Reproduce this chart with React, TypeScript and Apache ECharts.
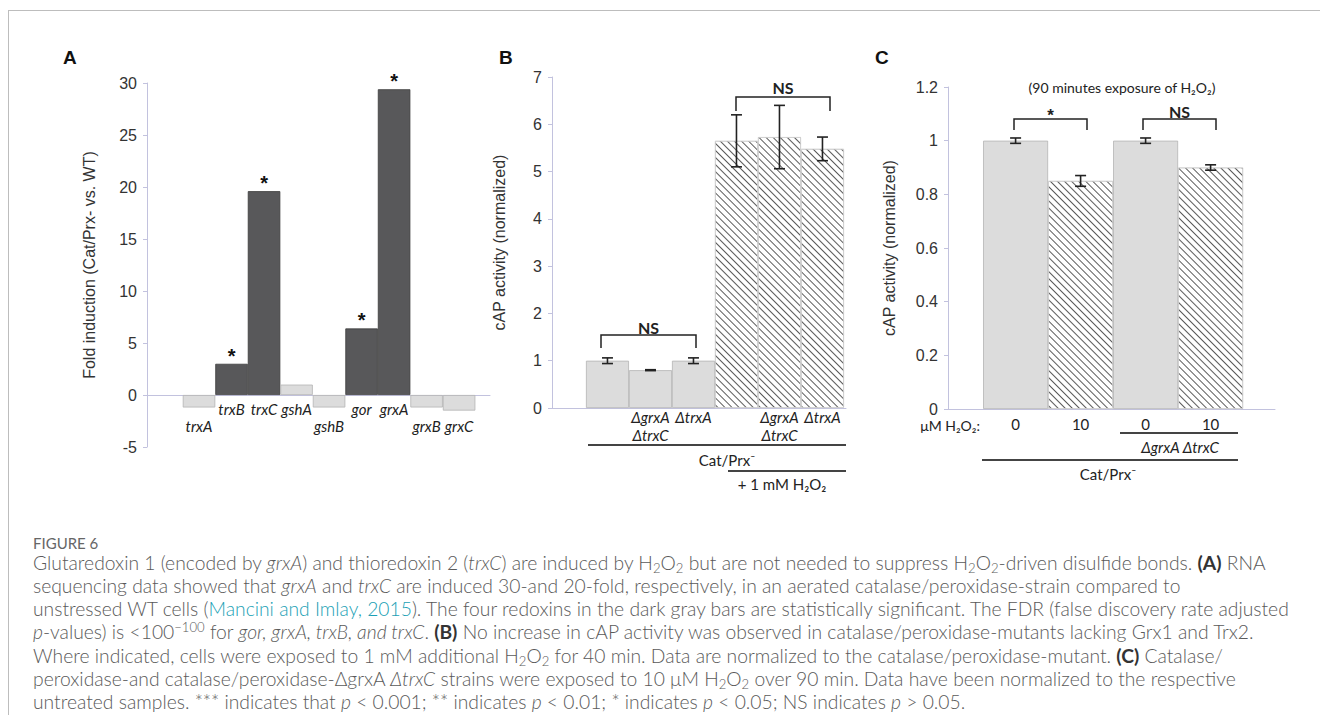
import React, { useEffect, useRef } from "react";
import * as echarts from "echarts";

// ---------- Panel A data ----------
const genes = ["trxA", "trxB", "trxC", "gshA", "gshB", "gor", "grxA", "grxB", "grxC"];
const foldInduction = [-1.2, 3.0, 19.6, 1.0, -1.2, 6.4, 29.4, -1.2, -1.5];
const significant = [false, true, true, false, false, true, true, false, false];
const aTicks = { min: -5, max: 30, interval: 5 };

// ---------- Panel B data ----------
const bStrains = ["", "ΔgrxA\nΔtrxC", "ΔtrxA", "", "ΔgrxA\nΔtrxC", "ΔtrxA"];
const bPeroxide = [false, false, false, true, true, true];
const bActivity = [1.0, 0.8, 1.0, 5.65, 5.73, 5.48];
const bError = [0.06, 0.01, 0.06, 0.55, 0.67, 0.25];
const bTicks = { min: 0, max: 7, interval: 1 };

// ---------- Panel C data ----------
const cDose = ["0", "10", "0", "10"];
const cTreated = [false, true, false, true];
const cActivity = [1.0, 0.85, 1.0, 0.9];
const cError = [0.01, 0.02, 0.01, 0.01];
const cTicks = { min: 0, max: 1.2, interval: 0.2 };

// ---------- styles ----------
const AXIS = "#c2c2de";
const TICKFONT = "'Liberation Sans', Arial, sans-serif";
const LFONT = "Lato, 'Open Sans', sans-serif";
const darkBar = { color: "#58585a", borderColor: "#3c3c3c", borderWidth: 0.8 };
const lightBar = { color: "#dcdcdc", borderColor: "#b4b4b4", borderWidth: 0.8 };
const hatchBar = {
  color: "#ffffff",
  borderColor: "#cfcfcf",
  borderWidth: 0.8,
  decal: {
    symbol: "rect",
    symbolSize: 1,
    dashArrayX: [1, 0],
    dashArrayY: [1, 3.4],
    rotation: Math.PI / 4,
    color: "#5a5a5a",
    backgroundColor: "#ffffff",
  },
};

const A_OFF = 1.6;
const B_OFF = 1.29;
const C_OFF = 1.04;

const A_GRID = { left: 147, top: 83, width: 343, height: 364 };

function yAxisCfg(gridIndex: number, t: any, name: string, nameGap: number) {
  return {
    gridIndex,
    type: "value",
    min: t.min,
    max: t.max,
    interval: t.interval,
    axisLine: { show: true, onZero: false, lineStyle: { color: AXIS, width: 1 } },
    axisTick: { show: true, length: 4, lineStyle: { color: AXIS } },
    splitLine: { show: false },
    axisLabel: { fontSize: 16, color: "#333", fontFamily: TICKFONT, margin: 10 },
    name,
    nameLocation: "middle",
    nameGap,
    nameTextStyle: { fontSize: 16, color: "#333", fontFamily: TICKFONT },
  };
}

function errorSeries(axisIndex: number, xs: number[], ys: number[], es: number[], capHalf: number) {
  return {
    type: "custom",
    xAxisIndex: axisIndex,
    yAxisIndex: axisIndex,
    z: 10,
    clip: false,
    encode: { x: 0, y: [1, 2] },
    data: xs.map((x, i) => [x, ys[i] + es[i], ys[i] - es[i]]),
    renderItem: (params: any, api: any) => {
      const x = api.value(0);
      const hi = api.coord([x, api.value(1)]);
      const lo = api.coord([x, api.value(2)]);
      const style = { stroke: "#222", lineWidth: 1.6 };
      return {
        type: "group",
        children: [
          { type: "line", shape: { x1: hi[0], y1: hi[1], x2: lo[0], y2: lo[1] }, style },
          { type: "line", shape: { x1: hi[0] - capHalf, y1: hi[1], x2: hi[0] + capHalf, y2: hi[1] }, style },
          { type: "line", shape: { x1: lo[0] - capHalf, y1: lo[1], x2: lo[0] + capHalf, y2: lo[1] }, style },
        ],
      };
    },
  };
}

function bracket(x1: number, x2: number, y: number, drop: number, label: string, labelY: number, size: number, font = LFONT) {
  return [
    {
      type: "polyline",
      shape: { points: [[x1, y + drop], [x1, y], [x2, y], [x2, y + drop]] },
      style: { stroke: "#222", lineWidth: 1.5, fill: null },
    },
    {
      type: "text",
      x: (x1 + x2) / 2,
      y: labelY,
      style: { text: label, fontSize: size, fontFamily: font, fontWeight: "bold", fill: "#222", align: "center", verticalAlign: "middle" },
    },
  ];
}

function textEl(x: number, y: number, text: string, opts: any = {}) {
  return {
    type: "text",
    x,
    y,
    style: { text, fontSize: 15, fontFamily: LFONT, fill: "#222", align: "center", verticalAlign: "middle", ...opts },
  };
}

function hline(x1: number, x2: number, y: number) {
  return { type: "line", shape: { x1, y1: y, x2, y2: y }, style: { stroke: "#444", lineWidth: 2 } };
}

function buildOption() {
  const aX = genes.map((_, i) => i + A_OFF);
  const bX = bActivity.map((_, i) => i + B_OFF);
  const cX = cActivity.map((_, i) => i + C_OFF);
  // put panel A's category axis on the zero line of its value axis
  const aZeroOffset = -((0 - aTicks.min) / (aTicks.max - aTicks.min)) * A_GRID.height;

  return {
    animation: false,
    grid: [
      A_GRID,
      { left: 552, top: 77, width: 294, height: 331 },
      { left: 948, top: 87, width: 327, height: 322 },
    ],
    xAxis: [
      {
        gridIndex: 0,
        type: "value",
        min: 0,
        max: 10.55,
        offset: aZeroOffset,
        axisLine: { show: true, onZero: false, lineStyle: { color: AXIS } },
        axisTick: { show: false },
        splitLine: { show: false },
        axisLabel: {
          customValues: aX,
          formatter: (v: number) => {
            const i = Math.round(v - A_OFF);
            if (i < 0 || i >= genes.length) return "";
            return foldInduction[i] < 0 ? "\n" + genes[i] : genes[i];
          },
          fontStyle: "italic",
          fontFamily: LFONT,
          fontSize: 15,
          lineHeight: 17,
          color: "#222",
          margin: 5,
        },
      },
      {
        gridIndex: 1,
        type: "value",
        min: 0,
        max: 294 / 43,
        axisLine: { show: true, onZero: false, lineStyle: { color: AXIS } },
        axisTick: { show: false },
        splitLine: { show: false },
        axisLabel: {
          customValues: bX,
          formatter: (v: number) => {
            const i = Math.round(v - B_OFF);
            return i >= 0 && i < bStrains.length ? bStrains[i] : "";
          },
          fontStyle: "italic",
          fontFamily: LFONT,
          fontSize: 15,
          lineHeight: 18,
          color: "#222",
          margin: 0,
        },
      },
      {
        gridIndex: 2,
        type: "value",
        min: 0,
        max: 327 / 65,
        axisLine: { show: true, onZero: false, lineStyle: { color: AXIS } },
        axisTick: { show: false },
        splitLine: { show: false },
        axisLabel: {
          customValues: cX,
          formatter: (v: number) => {
            const i = Math.round(v - C_OFF);
            return i >= 0 && i < cDose.length ? cDose[i] : "";
          },
          fontFamily: LFONT,
          fontSize: 15,
          color: "#222",
          margin: 7,
        },
      },
    ],
    yAxis: [
      yAxisCfg(0, aTicks, "Fold induction (Cat/Prx- vs. WT)", 50),
      yAxisCfg(1, bTicks, "cAP activity (normalized)", 45),
      yAxisCfg(2, cTicks, "cAP activity (normalized)", 51),
    ],
    series: [
      {
        type: "bar",
        xAxisIndex: 0,
        yAxisIndex: 0,
        barWidth: 32.5,
        data: genes.map((g, i) => ({
          value: [aX[i], foldInduction[i]],
          itemStyle: significant[i] ? darkBar : lightBar,
          label: {
            show: significant[i],
            position: "top",
            distance: -2,
            formatter: "*",
            fontSize: 20,
            fontWeight: "bold",
            color: "#111",
            fontFamily: TICKFONT,
          },
        })),
      },
      {
        type: "bar",
        xAxisIndex: 1,
        yAxisIndex: 1,
        barWidth: 43,
        data: bActivity.map((v, i) => ({
          value: [bX[i], v],
          itemStyle: bPeroxide[i] ? hatchBar : lightBar,
        })),
      },
      errorSeries(1, bX, bActivity, bError, 5.5),
      {
        type: "bar",
        xAxisIndex: 2,
        yAxisIndex: 2,
        barWidth: 65,
        data: cActivity.map((v, i) => ({
          value: [cX[i], v],
          itemStyle: cTreated[i] ? hatchBar : lightBar,
        })),
      },
      errorSeries(2, cX, cActivity, cError, 5.5),
    ],
    graphic: [
      // panel letters
      { type: "text", x: 63, y: 57, style: { text: "A", fontSize: 19, fontWeight: "bold", fontFamily: TICKFONT, fill: "#111", verticalAlign: "middle" } },
      { type: "text", x: 499, y: 57, style: { text: "B", fontSize: 19, fontWeight: "bold", fontFamily: TICKFONT, fill: "#111", verticalAlign: "middle" } },
      { type: "text", x: 875, y: 57, style: { text: "C", fontSize: 19, fontWeight: "bold", fontFamily: TICKFONT, fill: "#111", verticalAlign: "middle" } },
      // panel B annotations
      ...bracket(601, 696, 335, 13, "NS", 327, 16),
      ...bracket(736, 830, 97, 14, "NS", 87, 16),
      hline(588, 846, 445),
      textEl(727, 460, "Cat/Prx⁻"),
      hline(728, 846, 471),
      textEl(782, 484, "+ 1 mM H₂O₂"),
      // panel C annotations
      textEl(1122, 87, "(90 minutes exposure of H₂O₂)", { fontSize: 14 }),
      ...bracket(1014, 1087, 119, 11, "*", 115, 17, TICKFONT),
      ...bracket(1143, 1216, 119, 11, "NS", 111, 16),
      textEl(980, 425, "μM H₂O₂:", { align: "right", fontSize: 14 }),
      hline(1120, 1238, 433),
      textEl(1180, 447, "ΔgrxA ΔtrxC", { fontStyle: "italic" }),
      hline(982, 1238, 460),
      textEl(1108, 474, "Cat/Prx⁻"),
    ],
  };
}

const sub = (t: string) => (
  <sub style={{ fontSize: "0.68em", verticalAlign: "-0.25em", lineHeight: 0 }}>{t}</sub>
);
const sup = (t: string) => (
  <sup style={{ fontSize: "0.68em", verticalAlign: "0.55em", lineHeight: 0 }}>{t}</sup>
);
const H2O2 = (
  <>
    H{sub("2")}O{sub("2")}
  </>
);
const B = (t: string) => <b style={{ color: "#333", fontWeight: 700 }}>{t}</b>;

const captionLines: React.ReactNode[] = [
  <>
    Glutaredoxin 1 (encoded by <i>grxA</i>) and thioredoxin 2 (<i>trxC</i>) are induced by {H2O2} but are not needed to suppress {H2O2}-driven disulfide bonds. {B("(A)")} RNA
  </>,
  <>
    sequencing data showed that <i>grxA</i> and <i>trxC</i> are induced 30-and 20-fold, respectively, in an aerated catalase/peroxidase-strain compared to
  </>,
  <>
    unstressed WT cells (<span style={{ color: "#1a9fb5" }}>Mancini and Imlay, 2015</span>). The four redoxins in the dark gray bars are statistically significant. The FDR (false discovery rate adjusted
  </>,
  <>
    <i>p</i>-values) is &lt;100{sup("−100")} for <i>gor, grxA, trxB, and trxC</i>. {B("(B)")} No increase in cAP activity was observed in catalase/peroxidase-mutants lacking Grx1 and Trx2.
  </>,
  <>
    Where indicated, cells were exposed to 1 mM additional {H2O2} for 40 min. Data are normalized to the catalase/peroxidase-mutant. {B("(C)")} Catalase/
  </>,
  <>
    peroxidase-and catalase/peroxidase-ΔgrxA <i>ΔtrxC</i> strains were exposed to 10 μM {H2O2} over 90 min. Data have been normalized to the respective
  </>,
  <>
    untreated samples. *** indicates that <i>p</i> &lt; 0.001; ** indicates <i>p</i> &lt; 0.01; * indicates <i>p</i> &lt; 0.05; NS indicates <i>p</i> &gt; 0.05.
  </>,
];

export default function App() {
  const ref = useRef<HTMLDivElement>(null);
  useEffect(() => {
    if (!ref.current) return;
    const chart = echarts.init(ref.current, undefined, { renderer: "svg" });
    chart.setOption(buildOption() as any);
    return () => chart.dispose();
  }, []);

  return (
    <div style={{ position: "fixed", left: 0, top: 0, width: 1320, height: 719, background: "#fff", overflow: "hidden" }}>
      <div
        style={{
          position: "absolute",
          left: 8,
          top: 10,
          width: 1320,
          height: 704,
          borderTop: "1px solid #bdbdbd",
          borderLeft: "1px solid #bdbdbd",
        }}
      />
      <div ref={ref} style={{ position: "absolute", left: 0, top: 0, width: 1320, height: 500 }} />
      <div
        style={{
          position: "absolute",
          left: 33,
          top: 533,
          height: 20,
          lineHeight: "20px",
          fontFamily: LFONT,
          fontSize: 15,
          color: "#666",
          whiteSpace: "nowrap",
        }}
      >
        FIGURE 6
      </div>
      {captionLines.map((line, i) => (
        <div
          key={i}
          style={{
            position: "absolute",
            left: 33,
            top: 550.5 + i * 23.3,
            height: 23.3,
            lineHeight: "23.3px",
            fontFamily: LFONT,
            fontWeight: 300,
            fontSize: 19.3,
            color: "#5a5a5a",
            whiteSpace: "nowrap",
          }}
        >
          {line}
        </div>
      ))}
    </div>
  );
}
